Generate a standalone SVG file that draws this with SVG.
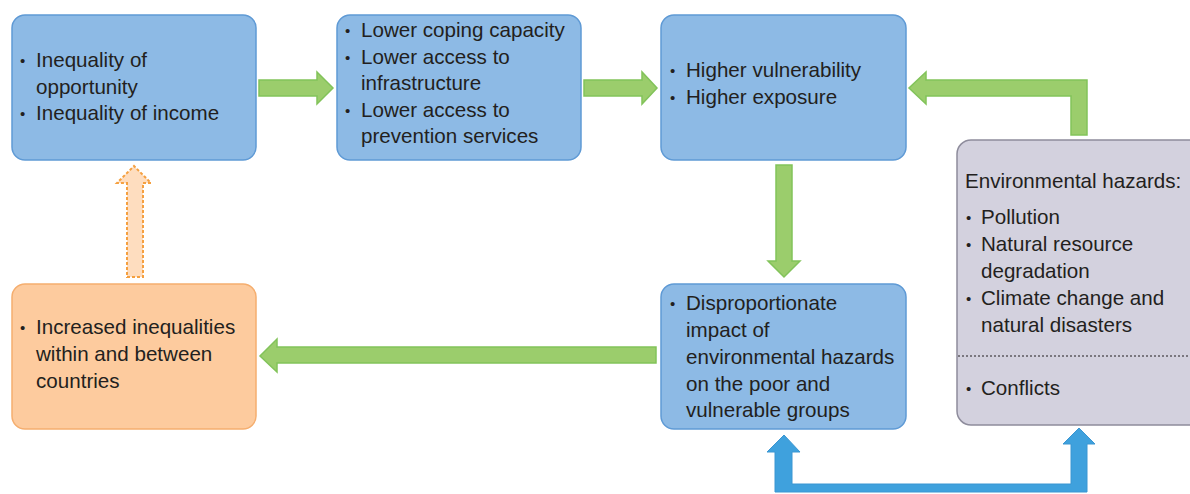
<svg xmlns="http://www.w3.org/2000/svg" width="1190" height="494" viewBox="0 0 1190 494">
<style>
.blue{fill:#8DBAE5;stroke:#5F9AD5;stroke-width:1.5}
.orange{fill:#FDCB9E;stroke:#F5AE6F;stroke-width:1.5}
.gray{fill:#D3D1DE;stroke:#8E8C9C;stroke-width:1.5}
.green{fill:#9BCD6C;stroke:#82C35A;stroke-width:1.5}
.bluearr{fill:#3FA1DD;stroke:#3A96D2;stroke-width:1}
.dash{fill:#FEDDBF;stroke:#F5A040;stroke-width:2;stroke-dasharray:3 2}
text{font-family:"Liberation Sans",Arial,sans-serif;font-size:20.6px;fill:#231F20}
.b{font-size:15px}
</style>
<g id="connectors">
<polygon class="green" points="259,80 317,80 317,72 333,88 317,104 317,96 259,96"/>
<polygon class="green" points="584,80 642,80 642,72 657,88 642,104 642,96 584,96"/>
<polygon class="green" points="776,165 792,165 792,261 800,261 784,277 768,261 776,261"/>
<polygon class="green" points="656,347 277,347 277,339 260,356 277,372 277,363 656,363"/>
<polygon class="green" points="1087,135 1071,135 1071,96 926,96 926,104 909,88 926,72 926,80 1087,80"/>
<polygon class="dash" points="127,277 143,277 143,183 151,183 134,166 117,183 127,183"/>
<polygon class="bluearr" points="775,492 1087,492 1087,444 1095,444 1079,428 1063,444 1071,444 1071,484 792,484 792,452 800,452 784,435 767,452 775,452"/>
</g>
<g id="box1">
<rect class="blue" x="12" y="15" width="244" height="145" rx="13"/>
<text x="20" y="66" class="b">•</text><text x="36" y="67">Inequality of</text>
<text x="36" y="94">opportunity</text>
<text x="20" y="119" class="b">•</text><text x="36" y="120">Inequality of income</text>
</g>
<g id="box2">
<rect class="blue" x="337" y="15" width="244" height="145" rx="13"/>
<text x="345" y="36" class="b">•</text><text x="361" y="37">Lower coping capacity</text>
<text x="345" y="63" class="b">•</text><text x="361" y="64">Lower access to</text>
<text x="361" y="90">infrastructure</text>
<text x="345" y="116" class="b">•</text><text x="361" y="117">Lower access to</text>
<text x="361" y="143">prevention services</text>
</g>
<g id="box3">
<rect class="blue" x="661" y="15" width="245" height="145" rx="13"/>
<text x="670" y="76" class="b">•</text><text x="686" y="77">Higher vulnerability</text>
<text x="670" y="103" class="b">•</text><text x="686" y="104">Higher exposure</text>
</g>
<g id="box4">
<rect class="orange" x="12" y="284" width="244" height="145" rx="13"/>
<text x="20" y="333" class="b">•</text><text x="36" y="334">Increased inequalities</text>
<text x="36" y="361">within and between</text>
<text x="36" y="388">countries</text>
</g>
<g id="box5">
<rect class="blue" x="661" y="284" width="245" height="145" rx="13"/>
<text x="670" y="309" class="b">•</text><text x="686" y="310">Disproportionate</text>
<text x="686" y="337">impact of</text>
<text x="686" y="364">environmental hazards</text>
<text x="686" y="391">on the poor and</text>
<text x="686" y="417">vulnerable groups</text>
</g>
<g id="box6">
<rect class="gray" x="957" y="140" width="250" height="285" rx="14"/>
<line x1="958" y1="356" x2="1190" y2="356" stroke="#231F20" stroke-width="1" stroke-dasharray="2 2"/>
<text x="965" y="188">Environmental hazards:</text>
<text x="966" y="223" class="b">•</text><text x="981" y="224">Pollution</text>
<text x="966" y="250" class="b">•</text><text x="981" y="251">Natural resource</text>
<text x="981" y="278">degradation</text>
<text x="966" y="304" class="b">•</text><text x="981" y="305">Climate change and</text>
<text x="981" y="332">natural disasters</text>
<text x="966" y="394" class="b">•</text><text x="981" y="395">Conflicts</text>
</g>
</svg>
